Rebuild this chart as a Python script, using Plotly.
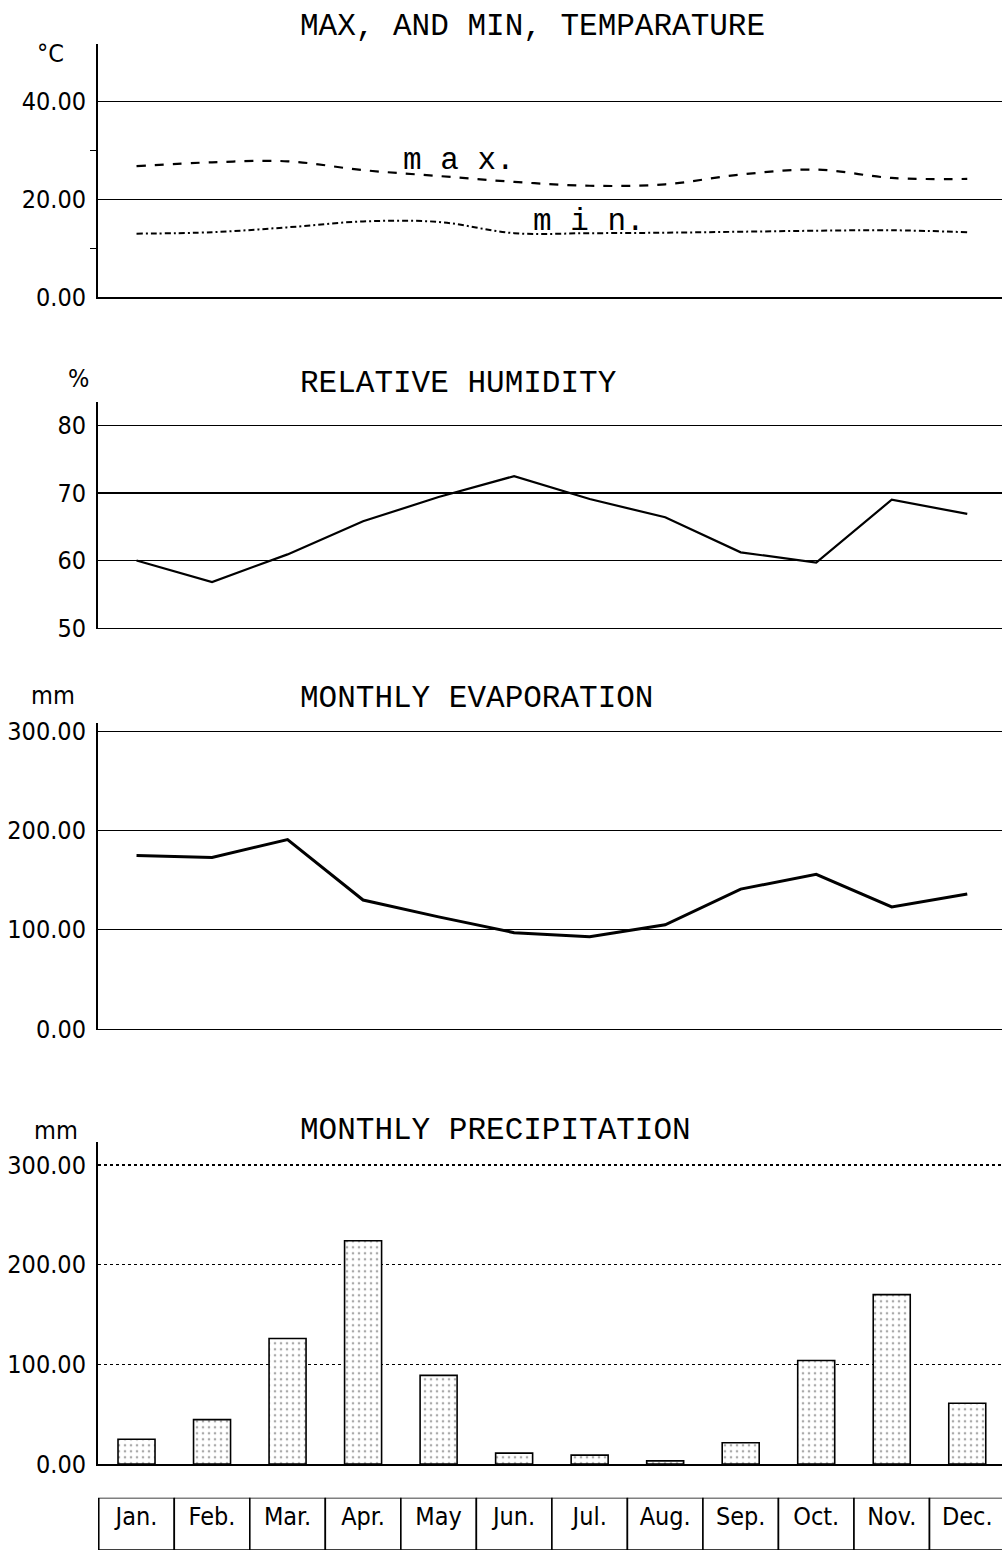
import plotly.graph_objects as go

# ---------------- data ----------------
months = ["Jan.", "Feb.", "Mar.", "Apr.", "May", "Jun.", "Jul.", "Aug.", "Sep.", "Oct.", "Nov.", "Dec."]
month_idx = list(range(12))
temp_max = [26.8, 27.6, 27.8, 26.0, 24.8, 23.6, 22.8, 23.1, 25.1, 26.1, 24.4, 24.2]
temp_min = [13.0, 13.3, 14.3, 15.5, 15.4, 13.1, 13.1, 13.2, 13.4, 13.6, 13.7, 13.3]
humidity = [60.0, 56.8, 60.9, 65.8, 69.4, 72.5, 69.1, 66.4, 61.2, 59.7, 69.0, 66.9]
evaporation = [175, 173, 191, 130, 113, 97, 93, 105, 141, 156, 123, 136]
precipitation = [25, 44.6, 126, 224, 89, 11, 9, 3.3, 21.5, 104, 170, 61]

temp_ticks = [0, 20, 40]
temp_ticktext = ["0.00", "20.00", "40.00"]
hum_ticks = [50, 60, 70, 80]
hum_ticktext = ["50", "60", "70", "80"]
mm_ticks = [0, 100, 200, 300]
mm_ticktext = ["0.00", "100.00", "200.00", "300.00"]

TITLE_FONT = dict(family="Liberation Mono, DejaVu Sans Mono, monospace", size=31, color="black")
TICK_FONT = dict(family="Liberation Sans Narrow, DejaVu Sans Condensed, Arial Narrow, sans-serif", size=25, color="black")
LABEL_FONT = dict(family="Liberation Sans Narrow, DejaVu Sans Condensed, Arial Narrow, sans-serif", size=25, color="black")

W, H = 1002, 1567


def py(px):
    return max(0.0, 1 - px / H)


fig = go.Figure()

# Panel 1: temperature
fig.add_trace(go.Scatter(x=month_idx, y=temp_max, mode="lines", xaxis="x", yaxis="y",
                         line=dict(color="black", width=2.2, dash="9px,9px", shape="spline"),
                         showlegend=False))
fig.add_trace(go.Scatter(x=month_idx, y=temp_min, mode="lines", xaxis="x", yaxis="y",
                         line=dict(color="black", width=2, dash="6px,3px,2px,3px", shape="spline"),
                         showlegend=False))

# Panel 2: humidity
fig.add_trace(go.Scatter(x=month_idx, y=humidity, mode="lines", xaxis="x2", yaxis="y2",
                         line=dict(color="black", width=2.2), showlegend=False))

# Panel 3: evaporation
fig.add_trace(go.Scatter(x=month_idx, y=evaporation, mode="lines", xaxis="x3", yaxis="y3",
                         line=dict(color="black", width=3), showlegend=False))

# Panel 4: precipitation
fig.add_trace(go.Bar(x=month_idx, y=precipitation, xaxis="x4", yaxis="y4", width=0.49,
                     marker=dict(color="white", line=dict(color="black", width=1.6),
                                 pattern=dict(shape=".", fgcolor="#555", bgcolor="white",
                                              size=6, solidity=0.15)),
                     showlegend=False))

# Panel 5: month label boxes
fig.add_trace(go.Bar(x=month_idx, y=[1] * 12, xaxis="x5", yaxis="y5", width=1,
                     marker=dict(color="white", line=dict(color="black", width=1.6)),
                     showlegend=False, hoverinfo="skip"))
fig.add_trace(go.Scatter(x=month_idx, y=[0.6] * 12, text=months, mode="text", xaxis="x5", yaxis="y5",
                         textfont=LABEL_FONT, showlegend=False))

xr = [-0.51, 11.46]
common_x = dict(range=xr, showgrid=False, zeroline=False, showticklabels=False, ticks="",
                showline=True, linecolor="black", linewidth=1.5, fixedrange=True)
common_y = dict(showgrid=True, gridcolor="black", gridwidth=1.3, zeroline=False, ticks="",
                showline=True, linecolor="black", linewidth=2, tickfont=TICK_FONT,
                ticklabelstandoff=5, tickmode="array")

layout = dict(
    width=W, height=H,
    margin=dict(l=98, r=0, t=0, b=0),
    paper_bgcolor="white", plot_bgcolor="white",
    showlegend=False,
    bargap=0,
    xaxis=dict(common_x, domain=[0, 1], anchor="y"),
    yaxis=dict(common_y, domain=[py(296), py(40)], range=[0, 51.7], anchor="x",
               tickvals=temp_ticks, ticktext=temp_ticktext,
               minor=dict(tickmode="array", tickvals=[10, 30], ticks="outside", ticklen=6,
                          tickcolor="black", tickwidth=1.5, showgrid=False)),
    xaxis2=dict(common_x, domain=[0, 1], anchor="y2"),
    yaxis2=dict(common_y, domain=[py(631), py(402)], range=[50, 83.5], anchor="x2",
                tickvals=hum_ticks, ticktext=hum_ticktext),
    xaxis3=dict(common_x, domain=[0, 1], anchor="y3"),
    yaxis3=dict(common_y, domain=[py(1037), py(727)], range=[0, 309], anchor="x3",
                tickvals=mm_ticks, ticktext=mm_ticktext),
    xaxis4=dict(common_x, domain=[0, 1], anchor="y4"),
    yaxis4=dict(common_y, domain=[py(1478), py(1152)], range=[0, 322.8], anchor="x4",
                tickvals=mm_ticks, ticktext=mm_ticktext, griddash="dot", gridwidth=1.3),
    xaxis5=dict(range=xr, domain=[0, 1], anchor="y5", showgrid=False, zeroline=False,
                showticklabels=False, showline=False, ticks=""),
    yaxis5=dict(range=[0, 1], domain=[py(1565), py(1512)], anchor="x5", showgrid=False,
                zeroline=False, showticklabels=False, showline=False, ticks=""),
)
fig.update_layout(**layout)

# Titles and unit labels
titles = [
    ("MAX, AND MIN, TEMPARATURE", 22),
    ("RELATIVE HUMIDITY", 383),
    ("MONTHLY EVAPORATION", 702),
    ("MONTHLY PRECIPITATION", 1140),
]
for txt, ypx in titles:
    fig.add_annotation(text=txt, xref="paper", yref="paper", x=(298 - 98) / (W - 98), y=py(ypx),
                       xanchor="left", yanchor="middle", showarrow=False, font=TITLE_FONT)

units = [("°C", 50, 49), ("%", 78, 378), ("mm", 53, 699), ("mm", 56, 1140)]
for txt, xpx, ypx in units:
    fig.add_annotation(text=txt, xref="paper", yref="paper", x=(xpx - 98) / (W - 98), y=py(ypx),
                       xanchor="center", yanchor="middle", showarrow=False, font=TICK_FONT)

# Curve labels
fig.add_annotation(text="m a x.", xref="x", yref="y", x=3.5, y=27.9, xanchor="left", yanchor="middle",
                   showarrow=False, font=TITLE_FONT)
fig.add_annotation(text="m i n.", xref="x", yref="y", x=5.22, y=15.4, xanchor="left", yanchor="middle",
                   showarrow=False, font=TITLE_FONT)

fig.write_html("out.html", config={"displayModeBar": False, "staticPlot": True},
               post_script="document.body.style.margin='0px';document.body.style.overflow='hidden';")
